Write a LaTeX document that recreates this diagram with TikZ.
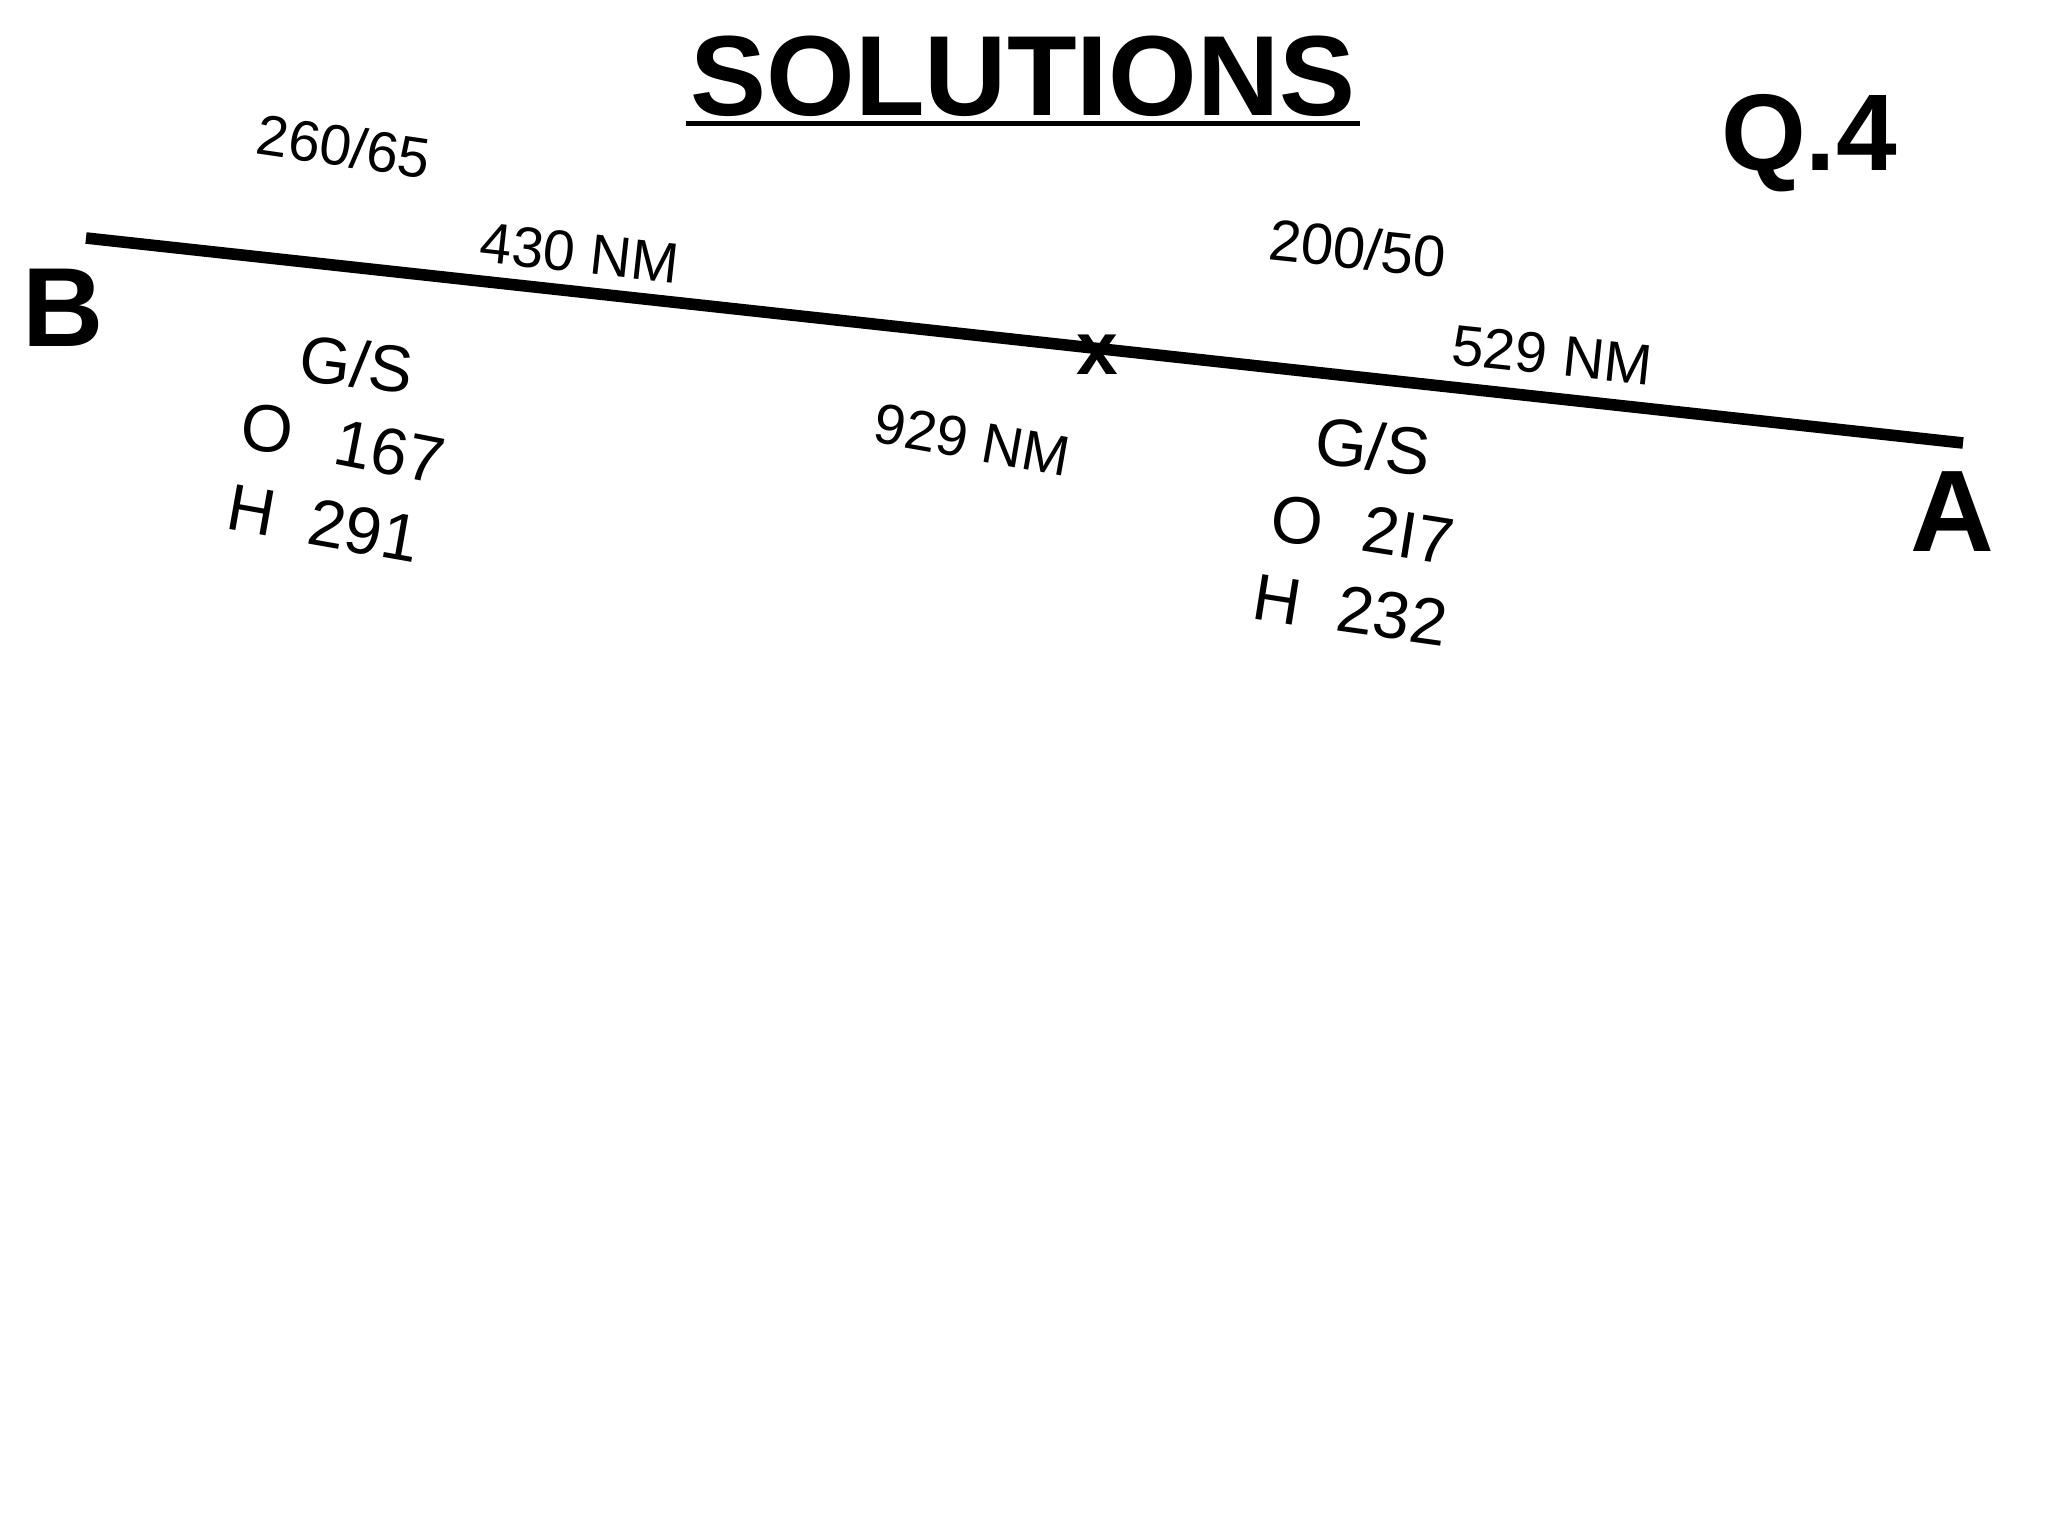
\documentclass[tikz,border=0pt]{standalone}
\usepackage{fontspec}
\setmainfont{Liberation Sans}
\usetikzlibrary{calc}
\usetikzlibrary{positioning}
\newcommand{\fsz}[1]{\fontsize{#1}{#1}\selectfont}
\tikzset{lbl/.style={inner sep=0pt, outer sep=0pt}}

\begin{document}
\begin{tikzpicture}[x=0.01cm, y=-0.01cm]
\useasboundingbox (0,0) rectangle (2048,1536);
\node[lbl, anchor=base, font=\bfseries\fsz{32.4pt}] (title) at (1023,115) {SOLUTIONS};
\draw[line width=1.45pt] ($(title.base west)+(-5,8.5)$) -- ($(title.base east)+(5,8.5)$);
\node[lbl, anchor=base, font=\bfseries\fsz{31pt}] (qnum) at (1809,170) {Q.4};
\coordinate (b) at (86,238);
\coordinate (a) at (1963,443);
\draw[line width=3.3pt] (b) -- (a);
\node[lbl, anchor=base, font=\bfseries\fsz{32pt}] (lblB) at (63,346) {B};
\node[lbl, anchor=base, font=\bfseries\fsz{33pt}] (lblA) at (1952,551) {A};
\node[lbl, anchor=base, font=\bfseries\fsz{21.3pt}] (mark) at (1097,374) {x};
\node[lbl, rotate=-8.3, font=\fsz{16.2pt}] (windB) at (344,146) {260/65};
\node[lbl, rotate=-6.3, font=\fsz{16.2pt}] (distB) at (580,253) {430 NM};
\node[lbl, rotate=-7, font=\fsz{18.7pt}] (gsB) at (357,364) {G/S};
\node[lbl, rotate=-5, font=\fsz{19pt}] (oB) at (267,429) {O};
\node[lbl, rotate=-11, font=\fsz{18.7pt}] (oBval) at (390,452) {167};
\node[lbl, rotate=-10, font=\fsz{18.7pt}] (hB) at (252,510) {H};
\node[lbl, rotate=-10, font=\fsz{18.9pt}] (hBval) at (364,531) {291};
\node[lbl, rotate=-10, font=\fsz{16.1pt}] (total) at (972,440) {929 NM};
\node[lbl, rotate=-6, font=\fsz{16.5pt}] (windA) at (1358,248) {200/50};
\node[lbl, rotate=-6, font=\fsz{16.3pt}] (distA) at (1552,355) {529 NM};
\node[lbl, rotate=-6, font=\fsz{19pt}] (gsA) at (1373,446) {G/S};
\node[lbl, rotate=-5, font=\fsz{19pt}] (oA) at (1297,521) {O};
\node[lbl, rotate=-9, font=\fsz{18.8pt}] (oAval) at (1408,535) {2I7};
\node[lbl, rotate=-9, font=\fsz{18.7pt}] (hA) at (1277,600) {H};
\node[lbl, rotate=-8, font=\fsz{18.8pt}] (hAval) at (1392,616) {232};
\end{tikzpicture}
\end{document}
